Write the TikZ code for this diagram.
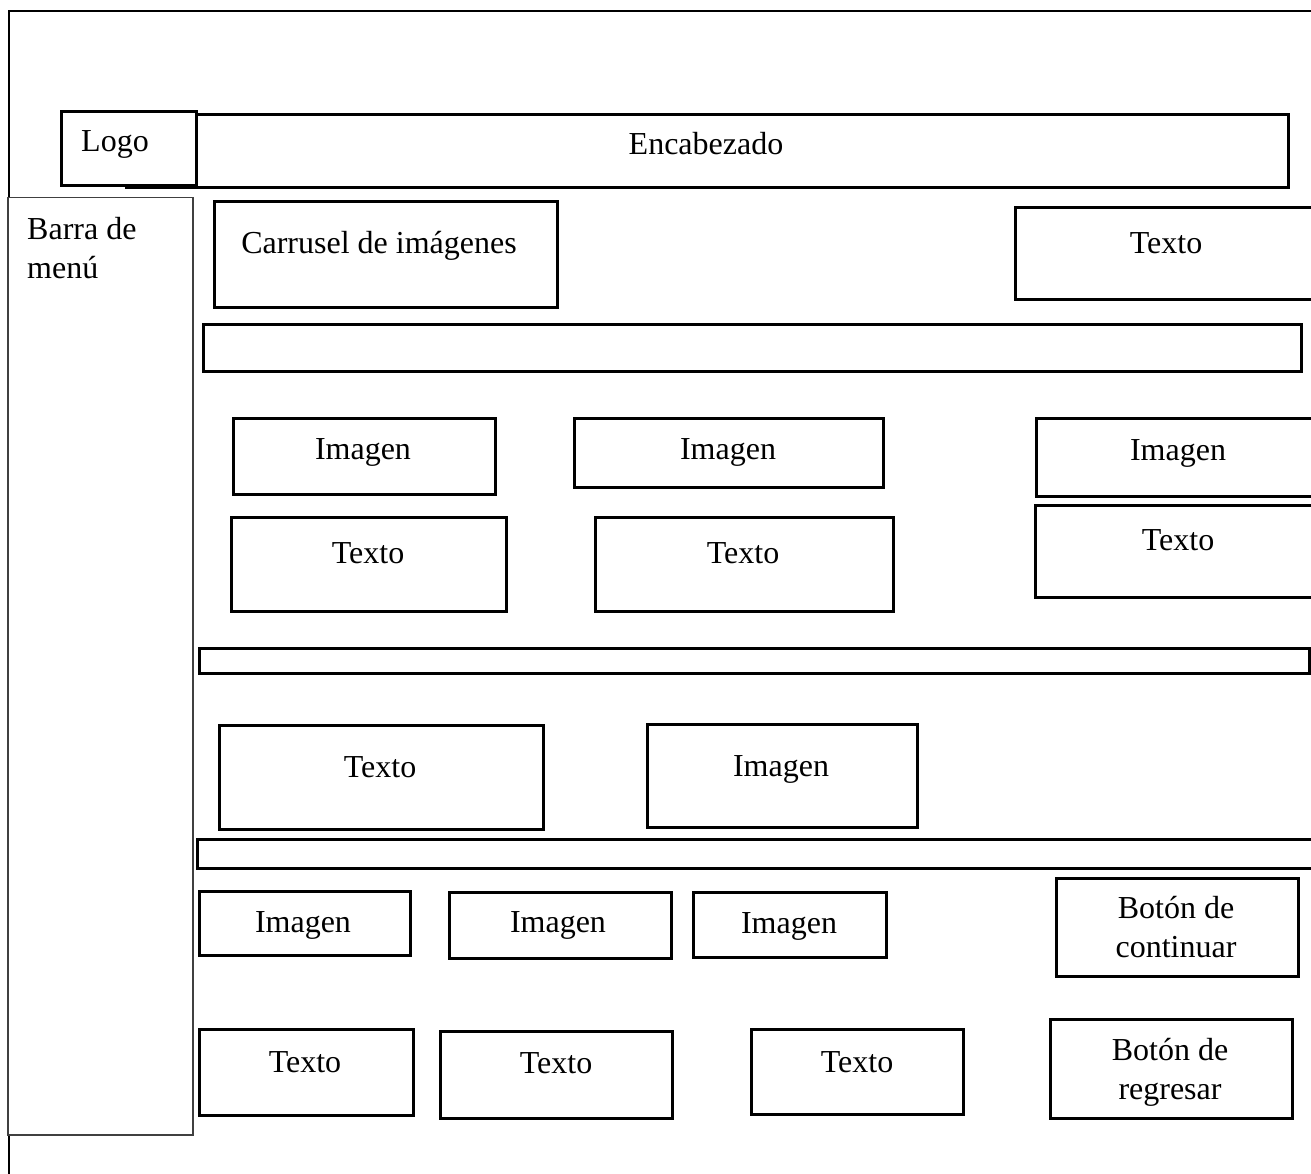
\documentclass[tikz,border=0pt]{standalone}
\usepackage{fontspec}
\setmainfont{Liberation Serif}

\tikzset{
  marco/.style={draw=black, line width=2.6pt},
  caja/.style={draw=black, line width=2.6pt, fill=white, anchor=north west, inner sep=0pt},
  menu/.style={draw=black!75, line width=1.5pt, fill=white, anchor=north west, inner sep=0pt},
  rotulo/.style={anchor=base, inner sep=0pt, align=center, font=\fontsize{32}{39}\selectfont}
}

\begin{document}
\begin{tikzpicture}[x=1pt, y=-1pt]
  \useasboundingbox (0,0) rectangle (1311,1174);
  \clip (0,0) rectangle (1311,1174);

  % pagina
  \draw[marco] (9,1190) -- (9,11) -- (1330,11);

  % encabezado y logo
  \node[caja, minimum width=1162pt, minimum height=73pt] (encabezado) at (125,113) {};
  \node[rotulo] (tencabezado) at (706,155) {Encabezado};
  \node[caja, minimum width=135pt, minimum height=74pt] (logo) at (60,110) {};
  \node[rotulo] (tlogo) at (115,152) {Logo};

  % barra de menu
  \node[menu, minimum width=185pt, minimum height=937pt] (menu) at (7,197) {};
  \node[rotulo, anchor=base west, align=left] (tmenu) at (27,278) {Barra de\\menú};

  % primera fila
  \node[caja, minimum width=343pt, minimum height=106pt] (carrusel) at (213,200) {};
  \node[rotulo] (tcarrusel) at (379,254) {Carrusel de imágenes};
  \node[caja, minimum width=320pt, minimum height=92pt] (textoA) at (1014,206) {};
  \node[rotulo] (ttextoA) at (1166,254) {Texto};
  \node[caja, minimum width=1098pt, minimum height=47pt] (franjaA) at (202,323) {};

  % segunda fila
  \node[caja, minimum width=262pt, minimum height=76pt] (imagenA) at (232,417) {};
  \node[rotulo] (timagenA) at (363,459) {Imagen};
  \node[caja, minimum width=309pt, minimum height=69pt] (imagenB) at (573,417) {};
  \node[rotulo] (timagenB) at (728,459) {Imagen};
  \node[caja, minimum width=300pt, minimum height=78pt] (imagenC) at (1035,417) {};
  \node[rotulo] (timagenC) at (1178,460) {Imagen};
  \node[caja, minimum width=275pt, minimum height=94pt] (textoB) at (230,516) {};
  \node[rotulo] (ttextoB) at (368,563) {Texto};
  \node[caja, minimum width=298pt, minimum height=94pt] (textoC) at (594,516) {};
  \node[rotulo] (ttextoC) at (743,563) {Texto};
  \node[caja, minimum width=300pt, minimum height=92pt] (textoD) at (1034,504) {};
  \node[rotulo] (ttextoD) at (1178,550) {Texto};
  \node[caja, minimum width=1110pt, minimum height=25pt] (franjaB) at (198,647) {};

  % tercera fila
  \node[caja, minimum width=324pt, minimum height=104pt] (textoE) at (218,724) {};
  \node[rotulo] (ttextoE) at (380,777) {Texto};
  \node[caja, minimum width=270pt, minimum height=103pt] (imagenD) at (646,723) {};
  \node[rotulo] (timagenD) at (781,776) {Imagen};
  \node[caja, minimum width=1140pt, minimum height=29pt] (franjaC) at (196,838) {};

  % cuarta fila
  \node[caja, minimum width=211pt, minimum height=64pt] (imagenE) at (198,890) {};
  \node[rotulo] (timagenE) at (303,932) {Imagen};
  \node[caja, minimum width=222pt, minimum height=66pt] (imagenF) at (448,891) {};
  \node[rotulo] (timagenF) at (558,932) {Imagen};
  \node[caja, minimum width=193pt, minimum height=65pt] (imagenG) at (692,891) {};
  \node[rotulo] (timagenG) at (789,933) {Imagen};
  \node[caja, minimum width=242pt, minimum height=98pt] (continuar) at (1055,877) {};
  \node[rotulo] (tcontinuar) at (1176,957) {Botón de\\continuar};

  % quinta fila
  \node[caja, minimum width=214pt, minimum height=86pt] (textoF) at (198,1028) {};
  \node[rotulo] (ttextoF) at (305,1072) {Texto};
  \node[caja, minimum width=232pt, minimum height=87pt] (textoG) at (439,1030) {};
  \node[rotulo] (ttextoG) at (556,1073) {Texto};
  \node[caja, minimum width=212pt, minimum height=85pt] (textoH) at (750,1028) {};
  \node[rotulo] (ttextoH) at (857,1072) {Texto};
  \node[caja, minimum width=242pt, minimum height=99pt] (regresar) at (1049,1018) {};
  \node[rotulo] (tregresar) at (1170,1099) {Botón de\\regresar};
\end{tikzpicture}
\end{document}
